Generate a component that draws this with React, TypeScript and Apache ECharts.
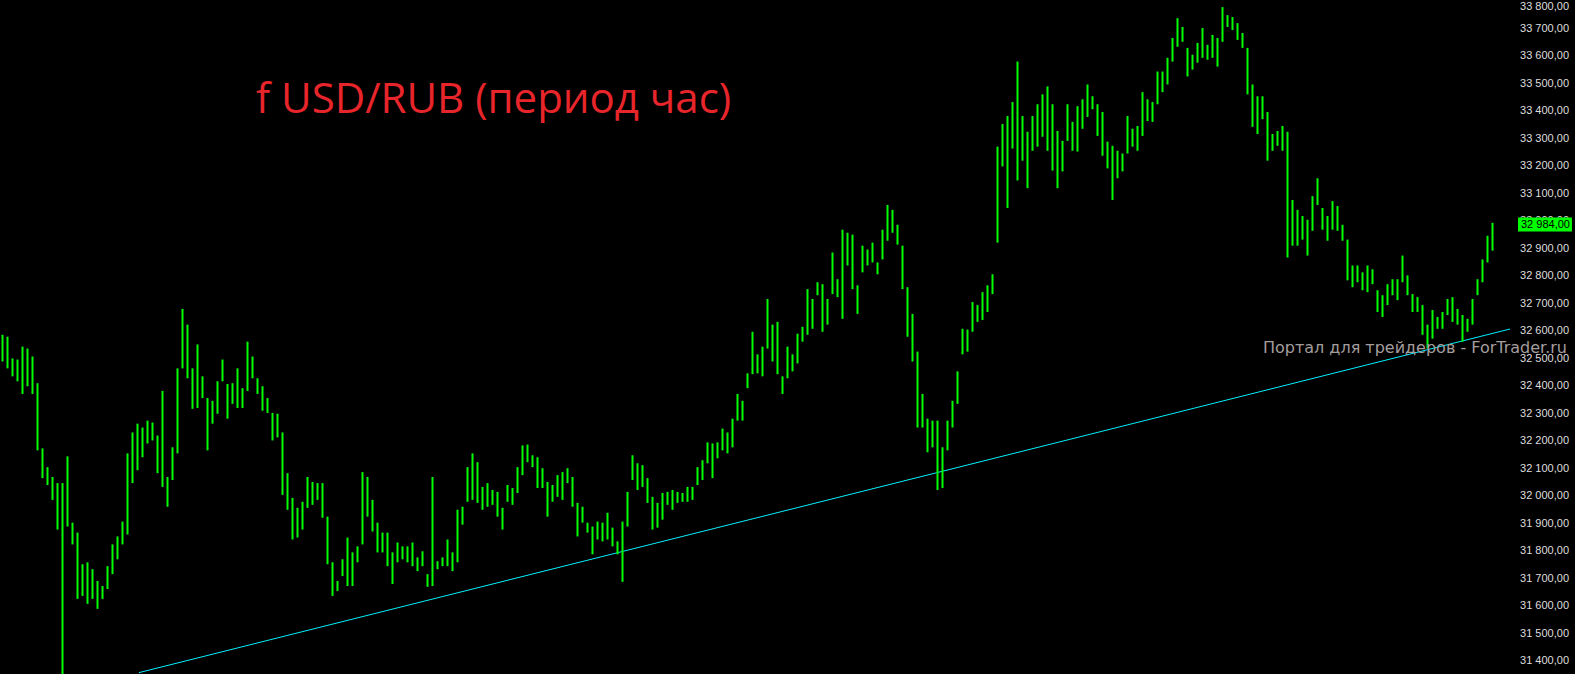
import React, { useEffect, useRef } from "react";
import * as echarts from "echarts";

// Hourly bars (low / high), left to right
const barLow = [
  32486, 32461, 32432, 32414, 32368, 32396, 32368, 32163, 32062, 32037,
  31983, 31875, 31350, 31886, 31821, 31623, 31634, 31605, 31623, 31587,
  31623, 31659, 31713, 31767, 31821, 31857, 32044, 32091, 32138, 32188,
  32199, 32080, 32030, 31958, 32055, 32152, 32461, 32425, 32314, 32317,
  32353, 32163, 32260, 32296, 32414, 32278, 32332, 32317, 32317, 32379,
  32425, 32368, 32307, 32299, 32199, 32210, 32001, 31947, 31839, 31846,
  31875, 31954, 31965, 31983, 31918, 31749, 31634, 31652, 31706, 31670,
  31670, 31756, 31821, 31922, 31868, 31792, 31792, 31742, 31677, 31756,
  31767, 31756, 31742, 31724, 31742, 31667, 31670, 31731, 31742, 31742,
  31724, 31756, 31893, 31976, 31983, 31972, 31947, 31958, 31965, 31922,
  31875, 31976, 31965, 32008, 32073, 32120, 32102, 32026, 32026, 31922,
  31976, 31994, 31983, 32044, 31958, 31850, 31900, 31864, 31785, 31839,
  31832, 31839, 31814, 31785, 31685, 31886, 32055, 32019, 32030, 31972,
  31875, 31882, 31911, 31965, 31947, 31972, 31976, 31976, 31983, 32037,
  32055, 32116, 32062, 32134, 32163, 32152, 32174, 32271, 32271, 32389,
  32440, 32443, 32432, 32533, 32486, 32440, 32368, 32425, 32450, 32479,
  32558, 32583, 32605, 32727, 32594, 32620, 32731, 32720, 32641, 32835,
  32749, 32659, 32810, 32835, 32846, 32803, 32857, 32925, 32954, 32911,
  32749, 32576, 32486, 32246, 32246, 32156, 32174, 32019, 32026, 32163,
  32246, 32332, 32512, 32522, 32594, 32630, 32637, 32666, 32731, 32918,
  33195, 33044, 33260, 33144, 33216, 33116, 33252, 33267, 33303, 33252,
  33180, 33116, 33177, 33288, 33252, 33249, 33332, 33375, 33403, 33306,
  33234, 33188, 33073, 33152, 33177, 33242, 33267, 33252, 33306, 33360,
  33357, 33421, 33465, 33493, 33576, 33630, 33648, 33522, 33547, 33572,
  33590, 33583, 33590, 33558, 33648, 33702, 33691, 33655, 33626, 33457,
  33339, 33313, 33367, 33216, 33252, 33270, 33252, 32864, 32907, 32907,
  32929, 32871, 32961, 33055, 32965, 32925, 32965, 32961, 32925, 32781,
  32756, 32774, 32745, 32738, 32767, 32666, 32648, 32691, 32727, 32709,
  32774, 32727, 32666, 32666, 32583, 32533, 32569, 32605, 32605, 32655,
  32630, 32620, 32558, 32594, 32620, 32727, 32774, 32846, 32889,
];

const barHigh = [
  32583, 32576, 32497, 32493, 32540, 32533, 32504, 32407, 32170, 32102,
  32066, 32044, 32044, 32141, 31900, 31864, 31749, 31756, 31731, 31688,
  31670, 31742, 31821, 31850, 31904, 32152, 32228, 32260, 32246, 32271,
  32264, 32217, 32379, 32066, 32174, 32461, 32677, 32620, 32461, 32548,
  32432, 32353, 32343, 32414, 32493, 32404, 32407, 32461, 32389, 32558,
  32504, 32425, 32396, 32353, 32299, 32296, 32228, 32080, 31990, 31954,
  31976, 32066, 32048, 32044, 32044, 31922, 31756, 31688, 31767, 31846,
  31792, 31814, 32084, 32066, 31983, 31900, 31864, 31864, 31792, 31828,
  31814, 31814, 31828, 31774, 31796, 31713, 32066, 31760, 31774, 31839,
  31792, 31947, 31958, 32102, 32152, 32120, 32030, 32044, 32019, 32012,
  31954, 32037, 32026, 32102, 32181, 32184, 32145, 32138, 32098, 32048,
  32037, 32073, 32084, 32098, 32066, 31972, 31958, 31900, 31886, 31904,
  31900, 31936, 31882, 31832, 31904, 32012, 32145, 32116, 32109, 32062,
  31994, 31972, 32008, 32012, 32019, 32012, 32008, 32030, 32030, 32102,
  32127, 32192, 32188, 32192, 32242, 32228, 32278, 32368, 32343, 32443,
  32594, 32512, 32540, 32713, 32620, 32630, 32432, 32540, 32512, 32587,
  32612, 32749, 32713, 32774, 32767, 32713, 32882, 32785, 32965, 32954,
  32947, 32763, 32907, 32893, 32918, 32846, 32965, 33055, 33037, 32983,
  32907, 32756, 32659, 32522, 32368, 32278, 32271, 32271, 32174, 32271,
  32343, 32450, 32605, 32602, 32702, 32691, 32738, 32763, 32803, 33267,
  33349, 33378, 33429, 33576, 33378, 33321, 33378, 33421, 33457, 33486,
  33421, 33324, 33288, 33421, 33357, 33414, 33439, 33493, 33450, 33421,
  33393, 33285, 33270, 33252, 33242, 33378, 33332, 33342, 33465, 33439,
  33429, 33540, 33540, 33590, 33662, 33734, 33702, 33626, 33601, 33644,
  33698, 33637, 33673, 33662, 33774, 33745, 33738, 33716, 33680, 33626,
  33493, 33450, 33450, 33393, 33313, 33324, 33342, 33321, 33073, 33037,
  33015, 33001, 33087, 33152, 33044, 33015, 33069, 33051, 32983, 32929,
  32835, 32835, 32810, 32835, 32821, 32745, 32727, 32767, 32785, 32785,
  32871, 32799, 32731, 32720, 32691, 32620, 32673, 32648, 32666, 32713,
  32720, 32677, 32655, 32641, 32713, 32785, 32857, 32943, 32990,
];

// Support trend line: two anchor points (bar index, price)
const trendIndex = [27.3, 301.5];
const trendValue = [31355, 32604];

const lastPrice = 32984;

const yTickValues = [
  31400, 31500, 31600, 31700, 31800, 31900, 32000, 32100, 32200, 32300, 32400,
  32500, 32600, 32700, 32800, 32900, 33000, 33100, 33200, 33300, 33400, 33500,
  33600, 33700, 33800,
];

const titleText = "f USD/RUB (период час)";
const watermarkText = "Портал для трейдеров - ForTrader.ru";

const SLOTS = 302;

function fmtPrice(v: number): string {
  const r = Math.round(v);
  const th = Math.floor(r / 1000);
  const rest = String(r % 1000).padStart(3, "0");
  return `${th} ${rest},00`;
}

export default function App() {
  const ref = useRef<HTMLDivElement>(null);

  useEffect(() => {
    document.body.style.margin = "0";
    document.body.style.background = "#000";
    if (!ref.current) return;
    const chart = echarts.init(ref.current, undefined, { renderer: "svg" });

    const bars = barLow.map((lo, i) => [i, lo, barHigh[i]]);
    const trend = trendIndex.map((x, i) => [x, trendValue[i]]);

    chart.setOption({
      animation: false,
      backgroundColor: "#000000",
      title: [
        {
          text: titleText,
          left: 256,
          top: 75,
          padding: 0,
          textStyle: {
            color: "#e8252a",
            fontSize: 42,
            fontWeight: "normal",
            fontFamily: "Open Sans",
          },
        },
        {
          text: watermarkText,
          right: 8,
          top: 339,
          padding: 0,
          z: 20,
          textStyle: {
            color: "#a39d9d",
            fontSize: 16,
            fontWeight: "normal",
            fontFamily: "DejaVu Sans",
          },
        },
      ],
      grid: { left: 0, right: 65, top: -5.3, bottom: -2 },
      xAxis: {
        type: "value",
        min: -0.5,
        max: SLOTS - 0.5,
        show: false,
      },
      yAxis: {
        type: "value",
        position: "right",
        min: 31350,
        max: 33800,
        scale: true,
        z: 0,
        splitLine: { show: false },
        axisLine: { show: false },
        axisTick: { show: false },
        axisLabel: {
          customValues: yTickValues,
          formatter: (v: number) => fmtPrice(v),
          color: "#dedede",
          fontSize: 11,
          fontFamily: "Liberation Sans",
          align: "right",
          margin: 59,
          verticalAlignMaxLabel: "top",
        },
      },
      series: [
        {
          type: "line",
          data: trend,
          symbol: "none",
          silent: true,
          z: 2,
          lineStyle: { color: "#00f0ff", width: 1 },
        },
        {
          type: "custom",
          data: bars,
          z: 3,
          encode: { x: 0, y: [1, 2] },
          renderItem: (params: any, api: any) => {
            const x = api.value(0);
            const lo = api.value(1);
            const hi = api.value(2);
            const pHi = api.coord([x, hi]);
            const pLo = api.coord([x, lo]);
            const w = 2;
            return {
              type: "rect",
              shape: {
                x: pHi[0] - w / 2,
                y: pHi[1],
                width: w,
                height: Math.max(1, pLo[1] - pHi[1]),
              },
              style: { fill: "#00ff00" },
            };
          },
          markLine: {
            symbol: "none",
            silent: true,
            z: 30,
            data: [{ yAxis: lastPrice }],
            lineStyle: { color: "rgba(0,0,0,0)", width: 1, type: "solid" },
            label: {
              position: "end",
              distance: 8,
              formatter: fmtPrice(lastPrice),
              backgroundColor: "#00ff00",
              color: "#000000",
              fontSize: 11,
              fontFamily: "Liberation Sans",
              padding: [2, 2, 1, 3],
            },
          },
        },
      ],
    });

    return () => {
      chart.dispose();
    };
  }, []);

  return <div ref={ref} style={{ width: 1575, height: 674 }} />;
}
